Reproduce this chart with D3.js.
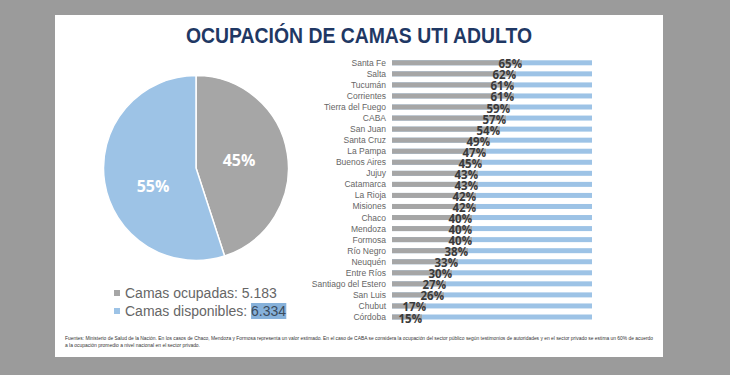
<!DOCTYPE html>
<html><head><meta charset="utf-8">
<script src="https://cdn.jsdelivr.net/npm/d3@7"></script>
<style>body{margin:0;background:#9b9b9b;}svg{display:block;}</style>
</head><body>
<script>
const provinces = ["Santa Fe","Salta","Tucumán","Corrientes","Tierra del Fuego","CABA","San Juan","Santa Cruz","La Pampa","Buenos Aires","Jujuy","Catamarca","La Rioja","Misiones","Chaco","Mendoza","Formosa","Río Negro","Neuquén","Entre Ríos","Santiago del Estero","San Luis","Chubut","Córdoba"];
const occupancy = [65,62,61,61,59,57,54,49,47,45,43,43,42,42,40,40,40,38,33,30,27,26,17,15];
const pieLabels = ["Camas ocupadas","Camas disponibles"];
const pieValues = [5183, 6334];
const piePct = [45, 55];
const title = "OCUPACIÓN DE CAMAS UTI ADULTO";
const footnote1 = "Fuentes: Ministerio de Salud de la Nación. En los casos de Chaco, Mendoza y Formosa representa un valor estimado. En el caso de CABA se considera la ocupación del sector público según testimonios de autoridades y en el sector privado se estima un 60% de acuerdo";
const footnote2 = "a la ocupación promedio a nivel  nacional en el sector privado.";

const W = 730, H = 375;
const GRAY = "#a6a6a6", BLUE = "#9dc3e6";
const svg = d3.select("body").append("svg").attr("width", W).attr("height", H);
svg.append("rect").attr("width", W).attr("height", H).attr("fill", "#9b9b9b");
svg.append("rect").attr("x", 55).attr("y", 15).attr("width", 608).attr("height", 342).attr("fill", "#ffffff");

svg.append("text").attr("x", 359).attr("y", 43).attr("text-anchor", "middle")
  .attr("font-family", "Liberation Sans Narrow, Arial Narrow, sans-serif").attr("font-weight", "bold")
  .attr("font-size", 22).attr("fill", "#1f3864")
  .attr("textLength", 346).attr("lengthAdjust", "spacingAndGlyphs").text(title);

// Pie
const cx = 196, cy = 168, r = 92.5;
const pie = d3.pie().sort(null).value(d => d)(pieValues);
const arc = d3.arc().innerRadius(0).outerRadius(r);
const g = svg.append("g").attr("transform", `translate(${cx},${cy})`);
g.selectAll("path").data(pie).join("path").attr("d", arc)
  .attr("fill", (d, i) => i === 0 ? GRAY : BLUE).attr("stroke", "#fff").attr("stroke-width", 1.5);
const labelPos = [[43, -8], [-43, 18]];
g.selectAll("text.pl").data(pie).join("text").attr("class", "pl")
  .attr("x", (d, i) => labelPos[i][0]).attr("y", (d, i) => labelPos[i][1])
  .attr("text-anchor", "middle").attr("dominant-baseline", "central")
  .attr("font-family", "Open Sans, sans-serif").attr("font-weight", "bold").attr("font-size", 16)
  .attr("fill", "#fff").text((d, i) => piePct[i] + "%");

// Legend
const fmt = v => d3.format(",")(v).replace(/,/g, ".");
const legY = [293, 311];
pieLabels.forEach((lab, i) => {
  svg.append("rect").attr("x", 114).attr("y", legY[i] - 3).attr("width", 6).attr("height", 6)
    .attr("fill", i === 0 ? GRAY : BLUE);
  const t = svg.append("text").attr("x", 125).attr("y", legY[i]).attr("dominant-baseline", "central")
    .attr("font-family", "Liberation Sans, Arial, sans-serif").attr("font-size", 14).attr("fill", "#666666");
  t.append("tspan").text(lab + ": ");
  const num = t.append("tspan").text(fmt(pieValues[i]));
  if (i === 1) {
    const bb = num.node().getBBox();
    svg.insert("rect", () => t.node()).attr("x", bb.x).attr("y", bb.y).attr("width", bb.width).attr("height", bb.height)
      .attr("fill", "#86b1da");
    num.attr("fill", "#3b4b5c");
  }
});

// Bars
const x = d3.scaleLinear().domain([0, 100]).range([392, 592]);
const y = d3.scalePoint().domain(provinces).range([62.8, 317]);
const bh = 5;
const bars = svg.append("g");
bars.selectAll("rect.bg").data(provinces).join("rect").attr("class", "bg")
  .attr("x", x(0)).attr("y", d => y(d) - bh / 2).attr("width", x(100) - x(0)).attr("height", bh).attr("fill", BLUE);
bars.selectAll("rect.fg").data(occupancy).join("rect").attr("class", "fg")
  .attr("x", x(0)).attr("y", (d, i) => y(provinces[i]) - bh / 2).attr("width", d => x(d) - x(0)).attr("height", bh).attr("fill", GRAY);
bars.selectAll("text.name").data(provinces).join("text").attr("class", "name")
  .attr("x", 386).attr("y", d => y(d)).attr("text-anchor", "end").attr("dominant-baseline", "central")
  .attr("font-family", "Liberation Sans, Arial, sans-serif").attr("font-size", 8.5).attr("fill", "#666666").text(d => d);
bars.selectAll("text.val").data(occupancy).join("text").attr("class", "val")
  .attr("x", d => x(d)).attr("y", (d, i) => y(provinces[i]) + 1).attr("text-anchor", "end").attr("dominant-baseline", "central")
  .attr("font-family", "Open Sans, sans-serif").attr("font-weight", "bold").attr("font-size", 11.5)
  .attr("fill", "#3a3a3a").text(d => d + "%");

// Footnote
svg.append("text").attr("x", 65).attr("y", 340).attr("font-family", "Liberation Sans Narrow, Arial Narrow, sans-serif")
  .attr("font-size", 5.5).attr("fill", "#333").attr("textLength", 588).attr("lengthAdjust", "spacingAndGlyphs").text(footnote1);
svg.append("text").attr("x", 65).attr("y", 347).attr("font-family", "Liberation Sans Narrow, Arial Narrow, sans-serif")
  .attr("font-size", 5.5).attr("fill", "#333").attr("textLength", 135).attr("lengthAdjust", "spacingAndGlyphs").text(footnote2);
</script>
</body></html>
